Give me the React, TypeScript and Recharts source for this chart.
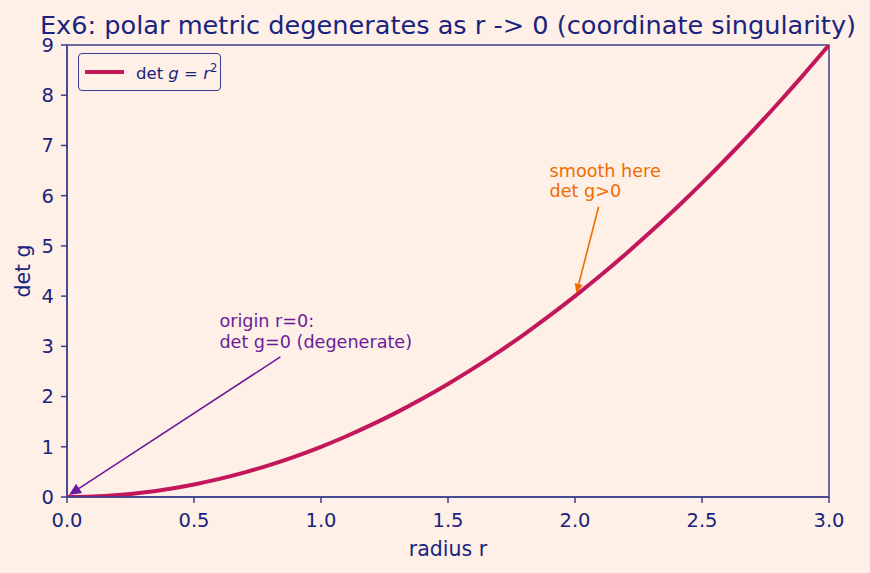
import React from 'react';
import { LineChart, Line, XAxis, YAxis, ReferenceLine, ReferenceDot, ReferenceArea, Legend } from 'recharts';

// values
const radiusValues = [0, 0.1, 0.2, 0.3, 0.4, 0.5, 0.6, 0.7, 0.8, 0.9, 1.0, 1.1, 1.2, 1.3, 1.4, 1.5, 1.6, 1.7, 1.8, 1.9, 2.0, 2.1, 2.2, 2.3, 2.4, 2.5, 2.6, 2.7, 2.8, 2.9, 3.0];
const detValues = [0, 0.01, 0.04, 0.09, 0.16, 0.25, 0.36, 0.49, 0.64, 0.81, 1.0, 1.21, 1.44, 1.69, 1.96, 2.25, 2.56, 2.89, 3.24, 3.61, 4.0, 4.41, 4.84, 5.29, 5.76, 6.25, 6.76, 7.29, 7.84, 8.41, 9.0];
const xTicks = [0, 0.5, 1.0, 1.5, 2.0, 2.5, 3.0];
const yTicks = [0, 1, 2, 3, 4, 5, 6, 7, 8, 9];

const originText = ['origin r=0:', 'det g=0 (degenerate)'];
const smoothText = ['smooth here', 'det g>0'];

const data = radiusValues.map((r, i) => ({ r, det: detValues[i] }));

const BG = '#fef0e6';
const NAVY = '#1a237e';
const SPINE = '#3f3f8f';
const CRIMSON = '#c2185b';
const ORANGE = '#ef6c00';
const PURPLE = '#6a1b9a';
const FONT = '"DejaVu Sans", sans-serif';

const arrowShape = (color: string, width: number, head: number, half: number) => (props: any) => {
  const { x1, y1, x2, y2 } = props;
  const dx = x2 - x1;
  const dy = y2 - y1;
  const len = Math.sqrt(dx * dx + dy * dy) || 1;
  const ux = dx / len;
  const uy = dy / len;
  const bx = x2 - ux * head;
  const by = y2 - uy * head;
  const pts = `${x2},${y2} ${bx - uy * half},${by + ux * half} ${bx + uy * half},${by - ux * half}`;
  return (
    <g>
      <line x1={x1} y1={y1} x2={bx} y2={by} stroke={color} strokeWidth={width} />
      <polygon points={pts} fill={color} />
    </g>
  );
};

const textShape = (lines: string[], color: string) => (props: any) => {
  const { cx, cy } = props;
  return (
    <text x={cx} y={cy} fill={color} fontFamily={FONT} fontSize={17.6}>
      {lines.map((l, i) => (
        <tspan key={i} x={cx} dy={i === 0 ? -(lines.length - 1) * 20.5 : 20.5}>{l}</tspan>
      ))}
    </text>
  );
};

const LegendBox = () => (
  <div
    style={{
      width: 143,
      height: 38,
      border: `1.3px solid ${SPINE}`,
      borderRadius: 4,
      background: BG,
      display: 'flex',
      alignItems: 'center',
      fontFamily: FONT,
      fontSize: 16.5,
      color: NAVY,
      boxSizing: 'border-box',
    }}
  >
    <div style={{ width: 39, height: 4, background: CRIMSON, marginLeft: 6, marginRight: 12 }} />
    <span style={{ whiteSpace: 'nowrap' }}>
      det <i>g</i> = <i>r</i>
      <sup style={{ fontSize: 11.5 }}>2</sup>
    </span>
  </div>
);

export default function App() {
  return (
    <div style={{ position: 'absolute', left: 0, top: 0, width: 870, height: 573, background: BG }}>
      <LineChart
        width={870}
        height={573}
        data={data}
        margin={{ top: 45, right: 41, bottom: 16, left: 0 }}
      >
        <XAxis
          dataKey="r"
          type="number"
          domain={[0, 3]}
          ticks={xTicks}
          tickFormatter={(v: number) => v.toFixed(1)}
          stroke={SPINE}
          strokeWidth={1.5}
          tickSize={6}
          tickMargin={10}
          height={60}
          tick={{ fill: NAVY, fontSize: 19.5, fontFamily: FONT }}
          allowDataOverflow
        />
        <YAxis
          type="number"
          domain={[0, 9]}
          ticks={yTicks}
          stroke={SPINE}
          strokeWidth={1.5}
          tickSize={6}
          tickMargin={7}
          width={67}
          tick={{ fill: NAVY, fontSize: 19.5, fontFamily: FONT }}
          allowDataOverflow
        />
        <ReferenceArea x1={0} x2={3} y1={0} y2={9} fill="none" stroke={SPINE} strokeWidth={1.5} ifOverflow="visible" />
        <Line
          type="monotone"
          dataKey="det"
          stroke={CRIMSON}
          strokeWidth={4}
          dot={false}
          isAnimationActive={false}
        />
        <ReferenceLine
          segment={[{ x: 0.84, y: 2.79 }, { x: 0.008, y: 0.04 }]}
          shape={arrowShape(PURPLE, 1.6, 12, 5.5)}
          ifOverflow="visible"
        />
        <ReferenceLine
          segment={[{ x: 2.093, y: 5.78 }, { x: 2.005, y: 4.05 }]}
          shape={arrowShape(ORANGE, 1.6, 10, 4)}
          ifOverflow="visible"
        />
        <ReferenceDot x={0.6} y={2.97} r={0} shape={textShape(originText, PURPLE)} ifOverflow="visible" />
        <ReferenceDot x={1.9} y={5.97} r={0} shape={textShape(smoothText, ORANGE)} ifOverflow="visible" />
        <Legend
          layout="vertical"
          align="center"
          verticalAlign="middle"
          content={() => <LegendBox />}
          wrapperStyle={{ position: 'absolute', left: 78, top: 53, width: 'auto', height: 'auto' }}
        />
      </LineChart>
      <svg width={870} height={573} style={{ position: 'absolute', left: 0, top: 0, pointerEvents: 'none' }}>
        <text x={448} y={34} textAnchor="middle" fill={NAVY} fontFamily={FONT} fontSize={25.6}>
          Ex6: polar metric degenerates as r -&gt; 0 (coordinate singularity)
        </text>
        <text x={448} y={556} textAnchor="middle" fill={NAVY} fontFamily={FONT} fontSize={20.5}>
          radius r
        </text>
        <text
          x={30}
          y={271}
          textAnchor="middle"
          fill={NAVY}
          fontFamily={FONT}
          fontSize={20.5}
          transform="rotate(-90 30 271)"
        >
          det g
        </text>
      </svg>
    </div>
  );
}
